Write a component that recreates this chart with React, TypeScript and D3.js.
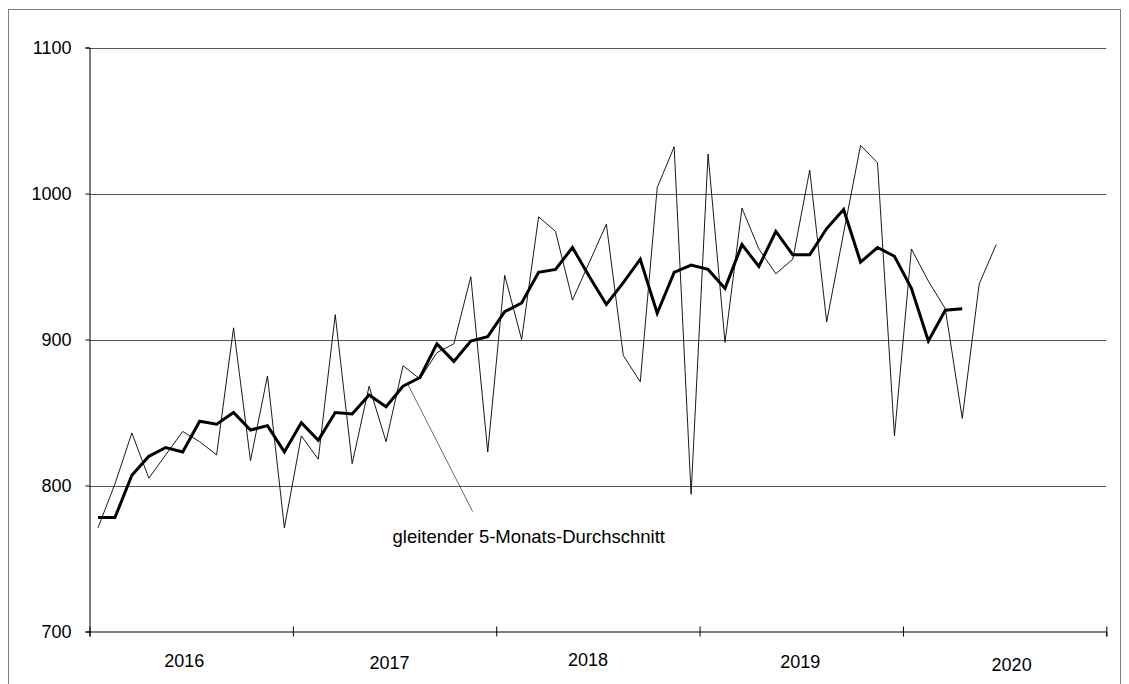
import React, { useEffect, useRef } from 'react';
import * as d3 from 'd3';

// monthly values, Jan 2016 ... Jun 2020
const monthly = [
  771, 801, 836, 805, 821, 837, 830, 821, 908, 817, 875, 771,
  834, 818, 917, 815, 868, 830, 882, 873, 891, 897, 943, 823,
  944, 900, 984, 974, 927, 953, 979, 889, 871, 1004, 1032, 794,
  1027, 898, 990, 962, 945, 955, 1016, 912, 973, 1033, 1021, 834,
  962, 940, 921, 846, 938, 965,
];

// gleitender 5-Monats-Durchschnitt, Jan 2016 ... Apr 2020
const movingAvg = [
  778, 778, 807, 820, 826, 823, 844, 842, 850, 838, 841, 823,
  843, 831, 850, 849, 862, 854, 868, 874, 897, 885, 899, 902,
  919, 925, 946, 948, 963, 943, 924, 939, 955, 918, 946, 951,
  948, 935, 965, 950, 974, 958, 958, 976, 989, 953, 963, 957,
  935, 899, 920, 921,
];

const years = ['2016', '2017', '2018', '2019', '2020'];
const yTicks = [700, 800, 900, 1000, 1100];
const maLabel = 'gleitender 5-Monats-Durchschnitt';

// small label shifts seen in the original
const yearDx = [-7, -5, -10, -1, 7];
const yearY = [667, 669, 666, 668, 671];

const W = 1129;
const H = 684;
const FONT = '"Liberation Sans", Arial, sans-serif';

const App = () => {
  const ref = useRef<SVGSVGElement>(null);

  useEffect(() => {
    const svg = d3.select(ref.current);
    svg.selectAll('*').remove();

    const left = 89.5;
    const right = 1106.3;
    const top = 47.5;
    const bottom = 631.5;

    const x = d3.scaleLinear().domain([0, years.length * 12]).range([left, right]);
    const y = d3.scaleLinear().domain([700, 1100]).range([bottom, top]);

    // outer frame
    svg.append('rect')
      .attr('x', 8.5).attr('y', 9.5)
      .attr('width', 1112).attr('height', 700)
      .attr('fill', 'none').attr('stroke', '#808080').attr('stroke-width', 1);

    // gridlines
    svg.append('g')
      .selectAll('line')
      .data(yTicks.slice(1))
      .enter()
      .append('line')
      .attr('x1', left).attr('x2', right)
      .attr('y1', (d) => Math.round(y(d)) + 0.5)
      .attr('y2', (d) => Math.round(y(d)) + 0.5)
      .attr('stroke', '#555').attr('stroke-width', 1);

    const yAxis = d3.axisLeft(y).tickValues(yTicks).tickSize(4).tickPadding(14).tickFormat(d3.format('d'));
    const gy = svg.append('g').attr('transform', `translate(${left},0)`).call(yAxis);
    gy.select('.domain').attr('stroke', '#000');
    gy.selectAll('.tick line').attr('stroke', '#000');
    gy.selectAll('text').attr('font-family', FONT).attr('font-size', 18).attr('fill', '#000');

    const xAxis = d3.axisBottom(x).tickValues(d3.range(0, years.length * 12 + 1, 12)).tickSize(5).tickFormat(() => '');
    const gx = svg.append('g').attr('transform', `translate(0,${bottom})`).call(xAxis);
    gx.select('.domain').attr('stroke', '#000');
    gx.selectAll('.tick line').attr('y1', -5).attr('stroke', '#000');

    svg.append('g')
      .selectAll('text')
      .data(years)
      .enter()
      .append('text')
      .attr('x', (d, i) => x(i * 12 + 6) + yearDx[i])
      .attr('y', (d, i) => yearY[i])
      .attr('text-anchor', 'middle')
      .attr('font-family', FONT)
      .attr('font-size', 18)
      .text((d) => d);

    const line = d3.line<number>().x((d, i) => x(i + 0.5)).y((d) => y(d));

    svg.append('path')
      .datum(monthly)
      .attr('d', line)
      .attr('fill', 'none')
      .attr('stroke', '#000')
      .attr('stroke-width', 0.9)
      .attr('stroke-linejoin', 'miter');

    svg.append('path')
      .datum(movingAvg)
      .attr('d', line)
      .attr('fill', 'none')
      .attr('stroke', '#000')
      .attr('stroke-width', 3)
      .attr('stroke-linejoin', 'miter');

    // annotation with leader line to the average
    const anchor = 18.8;
    svg.append('line')
      .attr('x1', x(anchor)).attr('y1', y(869))
      .attr('x2', 472.7).attr('y2', 511.7)
      .attr('stroke', '#444').attr('stroke-width', 0.8);

    svg.append('text')
      .attr('x', 392.5).attr('y', 543)
      .attr('font-family', FONT)
      .attr('font-size', 18.5)
      .text(maLabel);
  }, []);

  return (
    <svg
      ref={ref}
      width={W}
      height={H}
      style={{ position: 'absolute', left: 0, top: 0, background: '#fff' }}
    />
  );
};

export default App;
